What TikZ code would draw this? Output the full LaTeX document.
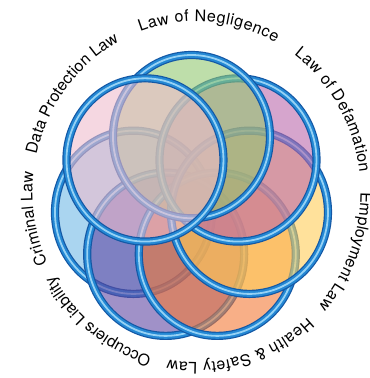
\documentclass[tikz,border=0pt]{standalone}
\usepackage{fontspec}
\setmainfont{TeX Gyre Heros}
\usetikzlibrary{calc, decorations.text}

\definecolor{ringdark}{RGB}{20,88,165}
\definecolor{ringmid}{RGB}{36,136,212}
\definecolor{ringlight}{RGB}{150,210,245}
\definecolor{neglcol}{RGB}{147,200,113}
\definecolor{defacol}{RGB}{187,105,172}
\definecolor{emplcol}{RGB}{255,205,88}
\definecolor{hsafcol}{RGB}{243,122,55}
\definecolor{occucol}{RGB}{97,72,163}
\definecolor{crimcol}{RGB}{113,185,230}
\definecolor{datacol}{RGB}{238,188,205}

\begin{document}
\begin{tikzpicture}[
    x=1pt, y=1.04pt,
    zone/.style = {fill opacity=0.6},
    ring/.style = {draw=ringdark, line width=8.2pt,
                   postaction={draw=ringmid, line width=5.8pt},
                   postaction={draw=ringlight, line width=1.8pt}},
    lbl/.style  = {decorate, decoration={text along path, text align=fit to path}}
  ]

  \useasboundingbox (-191.5,-172.6) rectangle (178.5,190.9);

  % --- circle centres ---
  \coordinate (crim) at (-167.14:59.5);
  \coordinate (occu) at (-115.71:59.5);
  \coordinate (hsaf) at (-64.29:59.5);
  \coordinate (empl) at (-12.86:59.5);
  \coordinate (defa) at (38.57:59.5);
  \coordinate (negl) at (90:59.5);
  \coordinate (data) at (141.43:59.5);

  % --- circles, back to front ---
  \fill[zone, fill=crimcol] (crim) circle[radius=78.5];
  \draw[ring] (crim) circle[radius=78.5];
  \fill[zone, fill=occucol] (occu) circle[radius=78.5];
  \draw[ring] (occu) circle[radius=78.5];
  \fill[zone, fill=hsafcol] (hsaf) circle[radius=78.5];
  \draw[ring] (hsaf) circle[radius=78.5];
  \fill[zone, fill=emplcol] (empl) circle[radius=78.5];
  \draw[ring] (empl) circle[radius=78.5];
  \fill[zone, fill=defacol] (defa) circle[radius=78.5];
  \draw[ring] (defa) circle[radius=78.5];
  \fill[zone, fill=neglcol] (negl) circle[radius=78.5];
  \draw[ring] (negl) circle[radius=78.5];
  \fill[zone, fill=datacol] (data) circle[radius=78.5];
  \draw[ring] (data) circle[radius=78.5];

  % --- labels round the ring ---
  \coordinate (tc) at (5,6.25);
  \path[lbl, decoration={text={|\fontsize{16}{19}\selectfont|Law of Negligence}}]
    ($(tc)+(110:164)$) arc[start angle=110, end angle=61.1, radius=164];
  \path[lbl, decoration={text={|\fontsize{16}{19}\selectfont|Law of Defamation}}]
    ($(tc)+(53.5:164)$) arc[start angle=53.5, end angle=6.5, radius=164];
  \path[lbl, decoration={text={|\fontsize{16}{19}\selectfont|Employment Law}}]
    ($(tc)+(0:164)$) arc[start angle=0, end angle=-42, radius=164];
  \path[lbl, decoration={text={|\fontsize{16}{19}\selectfont|Health}}]
    ($(tc)+(-47.3:164)$) arc[start angle=-47.3, end angle=-64.2, radius=164];
  \node[rotate=-157.7, anchor=base, inner sep=0pt, font=\fontsize{16}{19}\selectfont]
    (amp) at ($(tc)+(-67.7:164)$) {\&};
  \path[lbl, decoration={text={|\fontsize{16}{19}\selectfont|Safety Law}}]
    ($(tc)+(-71.3:164)$) arc[start angle=-71.3, end angle=-100.2, radius=164];
  \path[lbl, decoration={text={|\fontsize{16}{19}\selectfont|Occupiers Liability}}]
    ($(tc)+(-105.9:164)$) arc[start angle=-105.9, end angle=-149.6, radius=164];
  \path[lbl, decoration={text={|\fontsize{16}{19}\selectfont|Criminal Law}}]
    ($(tc)+(204.6:164)$) arc[start angle=204.6, end angle=173.3, radius=164];
  \path[lbl, decoration={text={|\fontsize{16}{19}\selectfont|Data Protection Law}}]
    ($(tc)+(167.2:164)$) arc[start angle=167.2, end angle=119.2, radius=164];

\end{tikzpicture}
\end{document}
